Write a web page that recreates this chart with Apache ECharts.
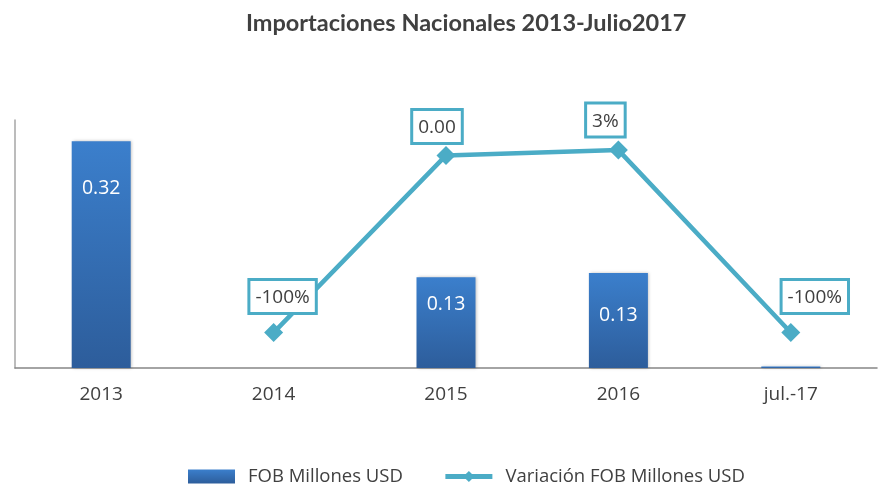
<!DOCTYPE html>
<html>
<head>
<meta charset="utf-8">
<script src="https://cdn.jsdelivr.net/npm/echarts@6/dist/echarts.min.js"></script>
<style>
  html, body { margin: 0; padding: 0; background: #fff; }
  #main { width: 878px; height: 484px; }
</style>
</head>
<body>
<div id="main"></div>
<script>
var categories = ['2013', '2014', '2015', '2016', 'jul.-17'];
var fobValues = [0.32, 0, 0.128, 0.134, 0.002];
var fobLabels = ['0.32', '', '0.13', '0.13', ''];
var variacionValues = [null, -1, 0, 0.03, -1];
var variacionLabels = ['', '-100%', '0.00', '3%', '-100%'];
// where each label sits relative to its mark
var barLabelDist = [37, 0, 17, 32, 0];
var lineLabelShift = [[0, 0], [9, 0], [-9, 7], [-13, 6], [24, 0]];

var chart = echarts.init(document.getElementById('main'));

var barData = fobValues.map(function (v, i) {
    return {
        value: v,
        label: { show: fobLabels[i] !== '', distance: barLabelDist[i], formatter: fobLabels[i] }
    };
});
var lineData = variacionValues.map(function (v, i) {
    return {
        value: v,
        label: { offset: lineLabelShift[i], formatter: variacionLabels[i] }
    };
});

var option = {
    animation: false,
    title: {
        text: 'Importaciones Nacionales 2013-Julio2017',
        left: 241,
        top: 6,
        textStyle: { fontFamily: 'Lato', fontWeight: 'bold', fontSize: 23.5, color: '#404040' }
    },
    legend: {
        top: 462,
        left: 183,
        itemGap: 40,
        itemWidth: 47,
        itemHeight: 14,
        textStyle: { fontFamily: 'Open Sans', fontSize: 18.5, color: '#404040', padding: [0, 0, 0, 8] },
        data: [
            { name: 'FOB Millones USD', icon: 'rect', itemStyle: { shadowBlur: 0 } },
            { name: 'Variación FOB Millones USD', lineStyle: { width: 5 } }
        ]
    },
    grid: { left: 15, right: 1, top: 120, bottom: 116 },
    xAxis: {
        type: 'category',
        data: categories,
        axisLine: { lineStyle: { color: '#868686', width: 1.5 } },
        axisTick: { show: false },
        axisLabel: { fontFamily: 'Open Sans', fontSize: 19, color: '#404040', margin: 17 }
    },
    yAxis: [
        {
            type: 'value', min: 0, max: 0.35,
            axisLine: { show: true, lineStyle: { color: '#a6a6a6', width: 1.5 } },
            axisLabel: { show: false },
            axisTick: { show: false },
            splitLine: { show: false }
        },
        {
            type: 'value', min: -1.2, max: 0.2,
            axisLine: { show: false },
            axisLabel: { show: false },
            axisTick: { show: false },
            splitLine: { show: false }
        }
    ],
    series: [
        {
            name: 'FOB Millones USD',
            type: 'bar',
            barWidth: 59,
            data: barData,
            itemStyle: {
                color: new echarts.graphic.LinearGradient(0, 0, 0, 1, [
                    { offset: 0, color: '#3b7fcc' },
                    { offset: 1, color: '#2d5d9b' }
                ]),
                shadowColor: 'rgba(0,0,0,0.25)',
                shadowBlur: 3,
                shadowOffsetX: 1
            },
            label: {
                position: 'insideTop',
                color: '#ffffff',
                fontFamily: 'Open Sans',
                fontSize: 19.5
            }
        },
        {
            name: 'Variación FOB Millones USD',
            type: 'line',
            yAxisIndex: 1,
            data: lineData,
            connectNulls: false,
            symbol: 'diamond',
            symbolSize: 19,
            lineStyle: { color: '#4bacc6', width: 4.5 },
            itemStyle: { color: '#4bacc6' },
            label: {
                show: true,
                position: 'top',
                distance: 11,
                color: '#404040',
                fontFamily: 'Open Sans',
                fontSize: 19,
                lineHeight: 21,
                backgroundColor: '#ffffff',
                borderColor: '#4bacc6',
                borderWidth: 3,
                padding: [6, 5, 4, 5]
            }
        }
    ]
};
chart.setOption(option);
</script>
</body>
</html>
